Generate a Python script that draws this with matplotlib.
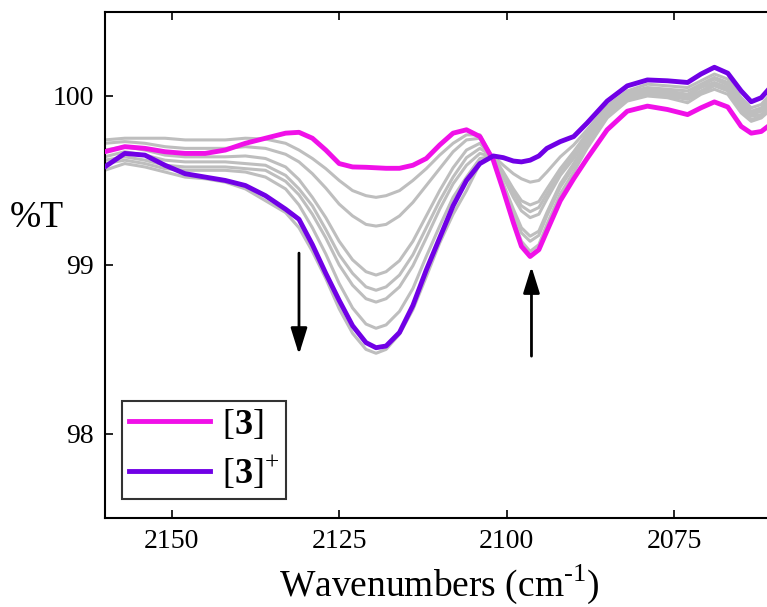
import matplotlib
matplotlib.use("Agg")
import matplotlib.pyplot as plt

plt.rcParams["font.family"] = ["Liberation Serif", "DejaVu Serif"]
plt.rcParams["mathtext.fontset"] = "custom"
plt.rcParams["mathtext.rm"] = "Liberation Serif"
plt.rcParams["mathtext.bf"] = "Liberation Serif:bold"

# wavenumber grid (cm-1)
wn = [2160, 2157, 2154, 2151, 2148, 2145, 2142, 2139, 2136, 2133, 2131, 2129,
      2127, 2125, 2123, 2121, 2119.5, 2118, 2116, 2114, 2112, 2110, 2108, 2106,
      2104, 2102, 2100.5, 2099, 2097.8, 2096.5, 2095.2, 2094, 2092, 2090, 2088,
      2085, 2082, 2079, 2076, 2073, 2071, 2069, 2067, 2065, 2063.5, 2062, 2060]

# [3]
neutral = [99.67, 99.70, 99.69, 99.67, 99.66, 99.66, 99.68, 99.72, 99.75, 99.78,
           99.785, 99.75, 99.68, 99.60, 99.58, 99.578, 99.575, 99.572, 99.572,
           99.59, 99.63, 99.71, 99.78, 99.80, 99.76, 99.62, 99.44, 99.25, 99.11,
           99.05, 99.09, 99.20, 99.38, 99.51, 99.63, 99.80, 99.91, 99.94, 99.92,
           99.89, 99.93, 99.965, 99.935, 99.82, 99.78, 99.79, 99.85]

# [3]+
cation = [99.58, 99.66, 99.65, 99.59, 99.54, 99.52, 99.50, 99.47, 99.41, 99.33,
          99.27, 99.12, 98.95, 98.79, 98.64, 98.54, 98.51, 98.52, 98.60, 98.76,
          98.97, 99.16, 99.35, 99.50, 99.60, 99.645, 99.635, 99.615, 99.61, 99.62,
          99.645, 99.69, 99.73, 99.76, 99.84, 99.97, 100.06, 100.095, 100.09,
          100.08, 100.13, 100.17, 100.135, 100.03, 99.966, 99.99, 100.08]

# intermediate spectra
gray1 = [99.74, 99.75, 99.75, 99.75, 99.74, 99.74, 99.74, 99.75, 99.745, 99.72,
         99.68, 99.63, 99.57, 99.50, 99.44, 99.41, 99.40, 99.41, 99.44, 99.50,
         99.57, 99.65, 99.72, 99.77, 99.77, 99.62, 99.45, 99.27, 99.14, 99.08,
         99.12, 99.24, 99.42, 99.55, 99.69, 99.87, 99.97, 100.00, 99.99, 99.96,
         100.01, 100.04, 100.01, 99.90, 99.85, 99.87, 99.94]
gray2 = [99.72, 99.73, 99.72, 99.70, 99.69, 99.69, 99.69, 99.70, 99.69, 99.655,
         99.61, 99.54, 99.455, 99.36, 99.29, 99.24, 99.23, 99.24, 99.29, 99.37,
         99.47, 99.57, 99.67, 99.74, 99.75, 99.63, 99.47, 99.31, 99.19, 99.14,
         99.175, 99.29, 99.46, 99.58, 99.71, 99.88, 99.98, 100.01, 100.00, 99.98,
         100.02, 100.06, 100.03, 99.915, 99.86, 99.88, 99.95]
gray3 = [99.68, 99.70, 99.68, 99.65, 99.64, 99.64, 99.64, 99.645, 99.63, 99.58,
         99.505, 99.40, 99.28, 99.14, 99.03, 98.96, 98.94, 98.96, 99.025, 99.14,
         99.29, 99.44, 99.575, 99.68, 99.72, 99.63, 99.48, 99.33, 99.22, 99.17,
         99.20, 99.31, 99.48, 99.60, 99.73, 99.89, 99.99, 100.02, 100.01, 99.99,
         100.03, 100.07, 100.04, 99.93, 99.88, 99.89, 99.97]
gray4 = [99.64, 99.67, 99.65, 99.62, 99.61, 99.61, 99.61, 99.60, 99.59, 99.53,
         99.45, 99.35, 99.21, 99.06, 98.95, 98.87, 98.85, 98.87, 98.94, 99.06,
         99.22, 99.38, 99.52, 99.635, 99.69, 99.64, 99.52, 99.40, 99.32, 99.28,
         99.30, 99.39, 99.53, 99.63, 99.75, 99.90, 100.00, 100.03, 100.02, 100.00,
         100.05, 100.08, 100.05, 99.94, 99.89, 99.91, 99.98]
gray5 = [99.62, 99.64, 99.62, 99.59, 99.58, 99.58, 99.58, 99.57, 99.56, 99.495,
         99.415, 99.30, 99.16, 99.00, 98.88, 98.80, 98.78, 98.80, 98.87, 98.995,
         99.16, 99.33, 99.48, 99.59, 99.66, 99.64, 99.53, 99.43, 99.35, 99.315,
         99.34, 99.42, 99.55, 99.65, 99.77, 99.91, 100.01, 100.04, 100.03, 100.01,
         100.06, 100.10, 100.065, 99.96, 99.90, 99.92, 100.00]
gray6 = [99.60, 99.62, 99.60, 99.57, 99.56, 99.56, 99.56, 99.55, 99.52, 99.45,
         99.355, 99.22, 99.065, 98.89, 98.745, 98.65, 98.625, 98.645, 98.725,
         98.86, 99.05, 99.23, 99.40, 99.52, 99.63, 99.645, 99.55, 99.45, 99.38,
         99.355, 99.375, 99.45, 99.57, 99.67, 99.78, 99.92, 100.02, 100.05, 100.04,
         100.03, 100.07, 100.11, 100.08, 99.97, 99.91, 99.93, 100.02]
gray7 = [99.56, 99.60, 99.58, 99.55, 99.52, 99.51, 99.49, 99.45, 99.38, 99.31,
         99.22, 99.08, 98.92, 98.74, 98.595, 98.50, 98.477, 98.50, 98.59, 98.735,
         98.93, 99.13, 99.30, 99.44, 99.60, 99.645, 99.59, 99.54, 99.51, 99.49,
         99.50, 99.55, 99.64, 99.71, 99.80, 99.94, 100.03, 100.07, 100.06, 100.05,
         100.09, 100.13, 100.10, 99.99, 99.93, 99.95, 100.04]
grays = [gray1, gray2, gray3, gray4, gray5, gray6, gray7]

fig = plt.figure(figsize=(7.67, 6.07), dpi=100)
ax = fig.add_axes([0.1365, 0.1461, 0.8735, 0.8349])

for g in grays:
    ax.plot(wn, g, color="#bebebe", lw=2.2, solid_joinstyle="round", zorder=2)
ax.plot(wn, neutral, color="#f010e8", lw=3.5, solid_joinstyle="round",
        label=r"$[\mathbf{3}]$", zorder=3)
ax.plot(wn, cation, color="#7000e6", lw=3.5, solid_joinstyle="round",
        label=r"$[\mathbf{3}]^{+}$", zorder=4)

# arrows showing band changes
arrow = dict(arrowstyle="-|>,head_length=0.8,head_width=0.25", lw=2,
             color="black", mutation_scale=20, shrinkA=0, shrinkB=0)
ax.annotate("", xy=(2131, 98.47), xytext=(2131, 99.07), arrowprops=arrow)
ax.annotate("", xy=(2096.3, 98.99), xytext=(2096.3, 98.46), arrowprops=arrow)

ax.set_xlim(2160, 2060)
ax.set_ylim(97.5, 100.5)
ax.set_xticks([2150, 2125, 2100, 2075])
ax.set_yticks([98, 99, 100])
ax.tick_params(direction="in", length=6, width=1.2, labelsize=20,
               top=True, right=True, pad=8)
for s in ax.spines.values():
    s.set_linewidth(1.5)

ax.set_xlabel(r"Wavenumbers (cm$^{\text{-}1}$)", fontsize=27, labelpad=6)
fig.text(0.0478, 0.6265, "%T", fontsize=27, ha="center", va="baseline")

leg = ax.legend(loc="lower left", bbox_to_anchor=(0.0254, 0.0375),
                borderaxespad=0, fontsize=26, frameon=True, fancybox=False,
                edgecolor="black", handlelength=2.25, handletextpad=0.32,
                labelspacing=0.33, borderpad=0.2)
leg.get_frame().set_linewidth(1.5)
for line in leg.get_lines():
    line.set_linewidth(3.5)

plt.savefig("out.png", dpi=100)
